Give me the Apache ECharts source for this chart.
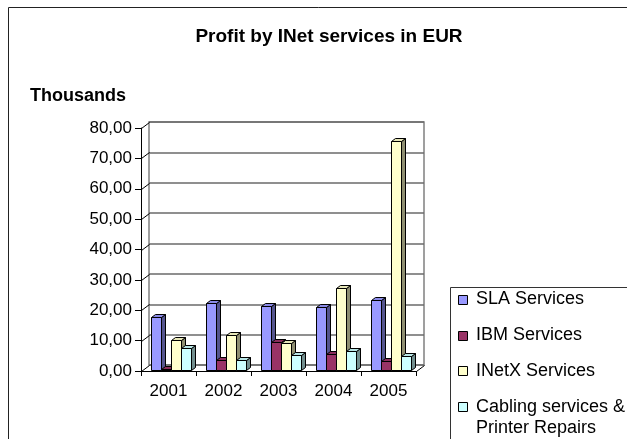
<!DOCTYPE html>
<html>
<head>
<meta charset="utf-8">
<title>Profit by INet services in EUR</title>
<script src="https://cdn.jsdelivr.net/npm/echarts@6/dist/echarts.min.js"></script>
<style>
  html, body { margin: 0; padding: 0; background: #fff; }
  #chart { width: 627px; height: 439px; }
</style>
</head>
<body>
<div id="chart"></div>
<script>
// Categories and values (in thousands of EUR)
const years = ['2001', '2002', '2003', '2004', '2005'];
const seriesNames = ['SLA Services', 'IBM Services', 'INetX Services', 'Cabling services &\nPrinter Repairs'];
const slaServices = [17.5, 22.1, 21.0, 20.8, 23.0];
const ibmServices = [0.3, 3.4, 9.3, 5.3, 3.1];
const inetxServices = [10.0, 11.5, 8.8, 26.9, 75.5];
const cablingServices = [7.3, 3.4, 5.1, 6.3, 4.5];
const yTicks = [0, 10, 20, 30, 40, 50, 60, 70, 80];

const seriesValues = [slaServices, ibmServices, inetxServices, cablingServices];
const frontColors = ['#9999ff', '#993366', '#ffffcc', '#ccffff'];
const topColors = ['#8a8ae6', '#8a2e5c', '#e6e6b8', '#b8e6e6'];
const sideColors = ['#55558f', '#55203a', '#8f8f72', '#728f8f'];

const FONT = '"Liberation Sans", Arial, sans-serif';
// depth of the floor/back wall, and of the bars themselves
const WALL_DX = 8, WALL_DY = -6;
const BAR_W = 10, BAR_DX = 4, BAR_DY = -3;
const BAR_SHIFT_X = 2, BAR_SHIFT_Y = -1;

function fmt(v) { return v.toFixed(2).replace('.', ','); }

function barRenderer(idx) {
  return function (params, api) {
    const cat = api.value(0);
    const val = api.value(1);
    const topPt = api.coord([cat, val]);
    const basePt = api.coord([cat, 0]);
    const groupW = BAR_W * seriesValues.length;
    const x = Math.round(topPt[0] - groupW / 2 + idx * BAR_W + BAR_SHIFT_X) + 0.5;
    const yT = Math.round(topPt[1] + BAR_SHIFT_Y) + 0.5;
    const yB = Math.round(basePt[1] + BAR_SHIFT_Y) + 0.5;
    const stroke = { stroke: '#000', lineWidth: 1 };
    return {
      type: 'group',
      children: [
        {
          type: 'polygon',
          shape: { points: [[x + BAR_W, yT], [x + BAR_W + BAR_DX, yT + BAR_DY], [x + BAR_W + BAR_DX, yB + BAR_DY], [x + BAR_W, yB]] },
          style: Object.assign({ fill: sideColors[idx] }, stroke)
        },
        {
          type: 'polygon',
          shape: { points: [[x, yT], [x + BAR_DX, yT + BAR_DY], [x + BAR_W + BAR_DX, yT + BAR_DY], [x + BAR_W, yT]] },
          style: Object.assign({ fill: topColors[idx] }, stroke)
        },
        {
          type: 'rect',
          shape: { x: x, y: yT, width: BAR_W, height: yB - yT },
          style: Object.assign({ fill: frontColors[idx] }, stroke)
        }
      ]
    };
  };
}

// slanted lines on the left wall and the right edge of the floor
function wallRenderer(params, api) {
  const v = api.value(0);
  const p = api.coord([0, v]);
  const cs = params.coordSys;
  const left = cs.x + 0.5;
  const y = Math.round(p[1]) + 0.5;
  const children = [{
    type: 'line',
    shape: { x1: left, y1: y, x2: left + WALL_DX, y2: y + WALL_DY },
    style: { stroke: '#000', lineWidth: 1 }
  }];
  if (v === 0) {
    const right = cs.x + cs.width + 0.5;
    children.push({
      type: 'line',
      shape: { x1: right, y1: y, x2: right + WALL_DX, y2: y + WALL_DY },
      style: { stroke: '#000', lineWidth: 1 }
    });
  }
  return { type: 'group', children: children };
}

const series = [{
  type: 'custom',
  name: 'wall',
  xAxisIndex: 0,
  yAxisIndex: 0,
  renderItem: wallRenderer,
  data: yTicks.map(v => [v]),
  encode: { y: 0 },
  silent: true,
  z: 1
}];
seriesValues.forEach((vals, idx) => {
  series.push({
    type: 'custom',
    name: seriesNames[idx],
    xAxisIndex: 0,
    yAxisIndex: 0,
    renderItem: barRenderer(idx),
    data: vals.map((v, i) => [i, v]),
    encode: { x: 0, y: 1 },
    z: 5
  });
});

// legend drawn as plain graphic items
const legendTop = 287.5, legendLeft = 450.5, rowGap = 35.7, firstRow = 299.5;
const legendItems = [{
  type: 'rect',
  shape: { x: legendLeft, y: legendTop, width: 300, height: 300 },
  style: { fill: '#fff', stroke: '#333', lineWidth: 1 },
  z: 10
}];
seriesNames.forEach((name, i) => {
  const cy = firstRow + i * rowGap;
  legendItems.push({
    type: 'rect',
    shape: { x: 458.5, y: Math.round(cy - 4.5) + 0.5, width: 9, height: 9 },
    style: { fill: frontColors[i], stroke: '#000', lineWidth: 1 },
    z: 11
  });
  legendItems.push({
    type: 'text',
    x: 476,
    y: cy - 10.5,
    style: {
      text: name,
      font: '18px ' + FONT,
      fill: '#000',
      lineHeight: 21,
      verticalAlign: 'top',
      align: 'left'
    },
    z: 11
  });
});

const chart = echarts.init(document.getElementById('chart'), null, { renderer: 'canvas' });
chart.setOption({
  animation: false,
  backgroundColor: '#fff',
  title: {
    text: 'Profit by INet services in EUR',
    left: 324,
    top: 22,
    textAlign: 'center',
    textStyle: { fontFamily: FONT, fontSize: 19, fontWeight: 'bold', color: '#000' }
  },
  grid: [
    { left: 141, right: 211, top: 128, bottom: 68 },
    {
      left: 149, right: 203, top: 122, bottom: 74,
      show: true, borderColor: '#808080', borderWidth: 1.5, backgroundColor: 'transparent'
    }
  ],
  xAxis: [
    {
      type: 'category',
      gridIndex: 0,
      data: years,
      boundaryGap: true,
      axisLine: { lineStyle: { color: '#000', width: 1 } },
      axisTick: { show: true, length: 5, alignWithLabel: false, lineStyle: { color: '#000' } },
      axisLabel: { fontFamily: FONT, fontSize: 17, color: '#000', margin: 12 },
      splitLine: { show: false },
      z: 3
    },
    {
      type: 'category',
      gridIndex: 1,
      data: years,
      show: false
    }
  ],
  yAxis: [
    {
      type: 'value',
      gridIndex: 0,
      min: 0,
      max: 80,
      interval: 10,
      axisLine: { show: true, lineStyle: { color: '#000', width: 1 } },
      axisTick: { show: true, length: 6, lineStyle: { color: '#000' } },
      axisLabel: { fontFamily: FONT, fontSize: 17, color: '#000', margin: 9, formatter: fmt },
      splitLine: { show: false },
      z: 3
    },
    {
      type: 'value',
      gridIndex: 1,
      min: 0,
      max: 80,
      interval: 10,
      axisLine: { show: false },
      axisTick: { show: false },
      axisLabel: { show: false },
      splitLine: { show: true, lineStyle: { color: '#6a6a6a', width: 1.5 } }
    }
  ],
  series: series,
  graphic: [
    {
      type: 'rect',
      shape: { x: 8.5, y: 7.5, width: 800, height: 600 },
      style: { fill: 'none', stroke: '#222', lineWidth: 1 },
      silent: true,
      z: -1
    },
    {
      type: 'text',
      x: 30,
      y: 96.5,
      style: {
        text: 'Thousands',
        font: 'bold 18px ' + FONT,
        fill: '#000',
        verticalAlign: 'middle'
      }
    }
  ].concat(legendItems)
});
</script>
</body>
</html>
